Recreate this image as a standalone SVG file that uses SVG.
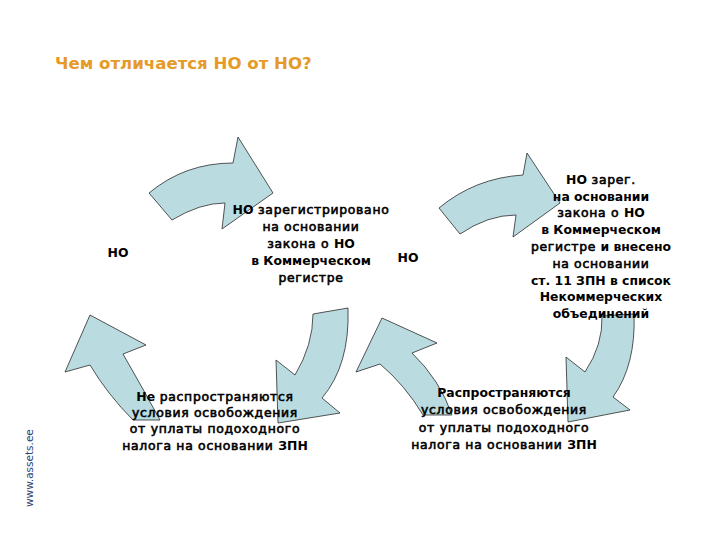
<svg xmlns="http://www.w3.org/2000/svg" width="720" height="540" viewBox="0 0 720 540">
<style>
.arr{fill:#BADCE1;stroke:#2b2b2b;stroke-width:0.8;stroke-linejoin:miter}
.t{font-family:"DejaVu Sans","Liberation Sans",sans-serif;font-size:12.4px;fill:#000;text-anchor:middle}
.b{font-weight:bold}
.m{font-weight:normal;stroke:#000;stroke-width:0.6;letter-spacing:0.7px}
.title{font-family:"DejaVu Sans","Liberation Sans",sans-serif;font-size:16.6px;font-weight:bold;fill:#E69A28}
.wm{font-family:"DejaVu Sans","Liberation Sans",sans-serif;font-size:10.5px;fill:#2E3F73}
</style>
<rect width="720" height="540" fill="#fff"/>
<text class="title" x="55" y="69">Чем отличается НО от НО?</text>
<text class="wm" transform="translate(33,507) rotate(-90)">www.assets.ee</text>
<g id="connectors">
<path id="arrow-top-left" class="arr" d="M149,193 Q185,163 233,163 L238,137 L273,193 L222,229 L225,203 Q200,203 172,220 Z"/>
<path id="arrow-top-right" class="arr" d="M439,208 Q475,178 523,175 L527,153 L560,203 L513,237 L516,215 Q488,215 460,234 Z"/>
<path id="arrow-right-down" class="arr" d="M602,316 L634,314 Q636,365 613,397 L630,410 L568,422 L566,357 L585,372 Q603,345 602,316 Z"/>
<path id="arrow-bottom-up" class="arr" d="M382,318 L437,343 L412,353 Q440,380 452,415 L423,415 Q405,385 380,364 L356,372 Z"/>
<path id="arrow-middle-down" class="arr" d="M313,314 L348,308 Q350,365 322,398 L340,413 L278,423 L276,360 L295,375 Q313,345 313,314 Z"/>
<path id="arrow-left-up" class="arr" d="M90,315 L146,345 L123,354 Q142,387 160,420 L133,420 Q108,395 90,365 L65,372 Z"/>
</g>
<g id="node-no-left">
<text class="t b" x="118" y="257">НО</text>
</g>
<g id="node-no-middle">
<text class="t b" x="408" y="262">НО</text>
</g>
<g id="node-registered">
<text class="t" x="311" y="214"><tspan class="b">НО</tspan><tspan class="m"> зарегистрировано</tspan></text>
<text class="t m" x="311" y="231">на основании</text>
<text class="t" x="311" y="248"><tspan class="m">закона о </tspan><tspan class="b">НО</tspan></text>
<text class="t b" x="311" y="265">в Коммерческом</text>
<text class="t m" x="311" y="282">регистре</text>
</g>
<g id="node-registered-listed">
<text class="t" x="601" y="184"><tspan class="b">НО</tspan><tspan class="m"> зарег.</tspan></text>
<text class="t b" x="601" y="201">на основании</text>
<text class="t" x="601" y="217"><tspan class="m">закона о </tspan><tspan class="b">НО</tspan></text>
<text class="t b" x="601" y="234">в Коммерческом</text>
<text class="t" x="601" y="251"><tspan class="m">регистре</tspan><tspan class="b"> и внесено</tspan></text>
<text class="t m" x="601" y="268">на основании</text>
<text class="t b" x="601" y="285">ст. 11 ЗПН в список</text>
<text class="t b" x="601" y="301">Некоммерческих</text>
<text class="t b" x="601" y="318">объединений</text>
</g>
<g id="node-not-apply">
<text class="t" x="215" y="401"><tspan class="b">Не</tspan><tspan class="m"> распространяются</tspan></text>
<text class="t m" x="215" y="417">условия освобождения</text>
<text class="t m" x="215" y="433">от уплаты подоходного</text>
<text class="t" x="215" y="450"><tspan class="m">налога на основании </tspan><tspan class="b">ЗПН</tspan></text>
</g>
<g id="node-apply">
<text class="t b" x="504" y="397">Распространяются</text>
<text class="t m" x="504" y="414">условия освобождения</text>
<text class="t m" x="504" y="432">от уплаты подоходного</text>
<text class="t" x="504" y="449"><tspan class="m">налога на основании </tspan><tspan class="b">ЗПН</tspan></text>
</g>
</svg>
